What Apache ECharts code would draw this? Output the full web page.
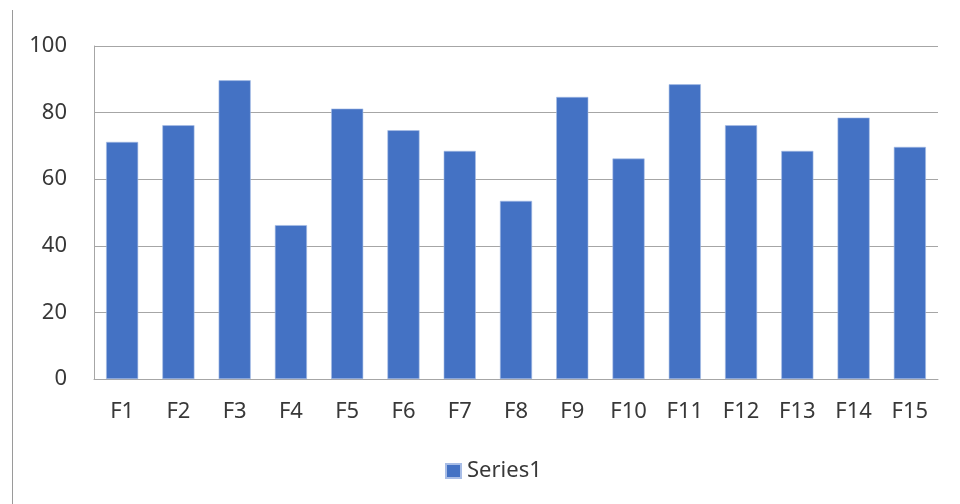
<!DOCTYPE html>
<html>
<head>
<meta charset="utf-8">
<script src="https://cdn.jsdelivr.net/npm/echarts@6/dist/echarts.min.js"></script>
<style>
  html, body { margin: 0; padding: 0; background: #ffffff; }
  #chart { width: 960px; height: 504px; }
</style>
</head>
<body>
<div id="chart"></div>
<script>
const categories = ['F1', 'F2', 'F3', 'F4', 'F5', 'F6', 'F7', 'F8', 'F9', 'F10', 'F11', 'F12', 'F13', 'F14', 'F15'];
const series1 = [71.2, 76.2, 89.7, 46.2, 81.2, 74.7, 68.5, 53.5, 84.7, 66.2, 88.5, 76.2, 68.5, 78.5, 69.7];
const yTicks = [0, 20, 40, 60, 80, 100];

const textFont = 'Noto Sans';
const textColor = '#383838';

const chart = echarts.init(document.getElementById('chart'), null, { renderer: 'canvas' });
chart.setOption({
  animation: false,
  backgroundColor: '#ffffff',
  grid: { left: 94, right: 22, top: 46, bottom: 125, containLabel: false },
  graphic: [{
    type: 'line',
    shape: { x1: 12.5, y1: 10, x2: 12.5, y2: 504 },
    style: { stroke: '#9a9a9a', lineWidth: 1 }
  }],
  legend: {
    data: ['Series1'],
    bottom: 17,
    left: 440,
    itemWidth: 15,
    itemHeight: 14,
    itemGap: 4,
    icon: 'rect',
    textStyle: { fontFamily: textFont, fontSize: 22, color: textColor, padding: [0, 0, 0, 1] }
  },
  xAxis: {
    type: 'category',
    data: categories,
    axisTick: { show: false },
    axisLine: { show: true, lineStyle: { color: '#a6a6a6', width: 1 } },
    axisLabel: { fontFamily: textFont, fontSize: 22, color: textColor, margin: 22 }
  },
  yAxis: {
    type: 'value',
    min: yTicks[0],
    max: yTicks[yTicks.length - 1],
    interval: 20,
    axisLine: { show: true, lineStyle: { color: '#a6a6a6', width: 1 } },
    axisTick: { show: false },
    splitLine: { lineStyle: { color: '#a6a6a6', width: 1 } },
    axisLabel: { fontFamily: textFont, fontSize: 22, color: textColor, margin: 27 }
  },
  series: [{
    name: 'Series1',
    type: 'bar',
    data: series1,
    barWidth: '57%',
    itemStyle: { color: '#4472C4', borderColor: '#a8bde6', borderWidth: 0.6 }
  }]
});
</script>
</body>
</html>
